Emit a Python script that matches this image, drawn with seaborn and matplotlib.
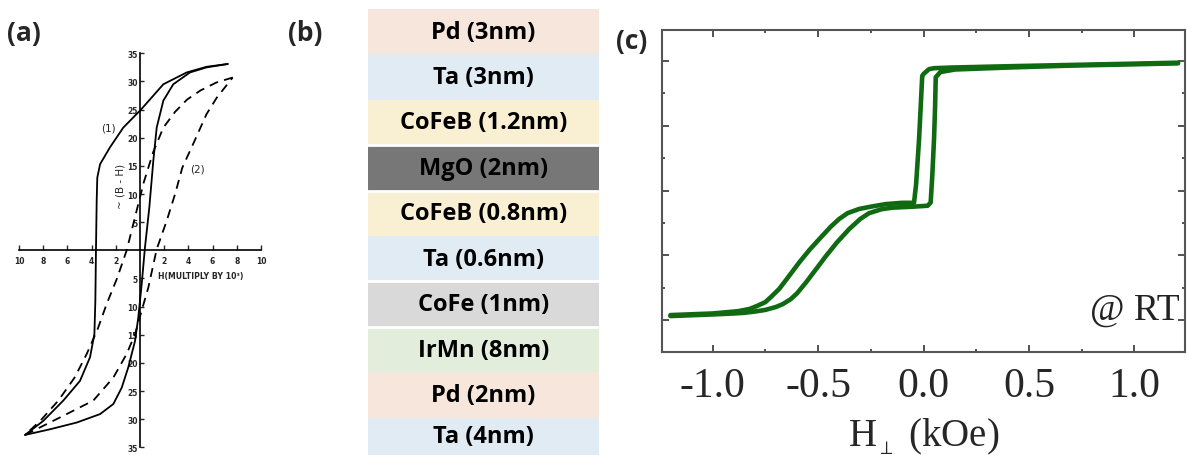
import numpy as np
import pandas as pd
import matplotlib
matplotlib.use("Agg")
import matplotlib.pyplot as plt
import seaborn as sns
from matplotlib.ticker import MultipleLocator

# ---------------- Panel (a): classic B-H hysteresis loops ----------------
# loop (1), solid: descending branch (from +H saturation to -H)
a1_down_x = [7.25, 5.5, 3.86, 1.93, 0.08, -1.38, -2.48, -3.3, -3.53, -3.58, -3.64, -3.69,
             -3.77, -4.13, -4.96, -6.34, -7.99, -9.5]
a1_down_y = [33.1, 32.6, 31.6, 29.5, 25.0, 21.8, 18.3, 15.3, 12.9, 8.8, -0.1, -9.0,
             -14.9, -19.0, -23.2, -26.7, -30.3, -32.8]
# loop (1), solid: ascending branch
a1_up_x = [-9.5, -7.44, -5.23, -3.3, -2.2, -1.51, -0.97, -0.41, -0.14, 0.14, 0.41, 0.77,
           1.1, 1.38, 1.93, 2.75, 4.13, 5.5, 7.25]
a1_up_y = [-32.8, -31.8, -30.6, -29.1, -27.3, -24.4, -20.8, -16.1, -11.9, -6.0, 0.5, 7.6,
           15.9, 21.8, 26.6, 29.5, 31.6, 32.5, 33.1]
# loop (2), dashed: descending branch
a2_down_x = [7.66, 6.3, 5.0, 3.9, 2.9, 1.93, 1.1, 0.3, -0.4, -1.1, -1.9, -2.75, -3.5,
             -4.4, -5.4, -6.75, -8.2, -9.5]
a2_down_y = [30.7, 29.8, 28.4, 26.8, 24.6, 21.8, 17.5, 12.0, 6.0, 0.0, -5.0, -9.5, -14.0,
             -18.4, -22.6, -26.7, -30.2, -32.8]
# loop (2), dashed: ascending branch
a2_up_x = [-9.5, -6.06, -3.86, -2.2, -1.1, -0.41, 0.14, 0.69, 1.38, 2.2, 2.9, 3.5, 4.5,
           5.5, 6.34, 7.66]
a2_up_y = [-32.8, -29.1, -26.7, -22.6, -18.4, -14.9, -10.7, -6.6, 0.2, 5.2, 10.0, 14.7,
           19.4, 24.2, 27.1, 30.7]
a_xticks = [-10, -8, -6, -4, -2, 2, 4, 6, 8, 10]
a_xticklabels = ["10", "8", "6", "4", "2", "2", "4", "6", "8", "10"]
a_yticks = [35, 30, 25, 20, 15, 10, 5, -5, -10, -15, -20, -25, -30, -35]
a_yticklabels = ["35", "30", "25", "20", "15", "10", "5", "5", "10", "15", "20", "25", "30", "35"]

# ---------------- Panel (b): layer stack ----------------
layers = ["Pd (3nm)", "Ta (3nm)", "CoFeB (1.2nm)", "MgO (2nm)", "CoFeB (0.8nm)",
          "Ta (0.6nm)", "CoFe (1nm)", "IrMn (8nm)", "Pd (2nm)", "Ta (4nm)"]
layer_colors = ["#FBE5D6", "#DEEBF7", "#FFF2CC", "#777777", "#FFF2CC",
                "#DEEBF7", "#D9D9D9", "#E2F0D9", "#FBE5D6", "#DEEBF7"]
layer_gap_after = ["CoFeB (1.2nm)", "MgO (2nm)", "Ta (0.6nm)", "CoFe (1nm)"]

# ---------------- Panel (c): exchange-biased perpendicular loop ----------------
c_up_x = [-1.2, -1.0, -0.9, -0.85, -0.8, -0.75, -0.7, -0.667, -0.63, -0.6, -0.557, -0.5,
          -0.462, -0.41, -0.352, -0.3, -0.258, -0.2, -0.147, -0.05, 0.02, 0.034, 0.042,
          0.05, 0.055, 0.058, 0.08, 0.15, 0.4, 0.7, 1.0, 1.207]
c_up_y = [0.12, 0.17, 0.2, 0.22, 0.26, 0.31, 0.4, 0.49, 0.64, 0.82, 1.16, 1.65,
          1.98, 2.4, 2.81, 3.12, 3.3, 3.42, 3.47, 3.5, 3.53, 3.63, 4.5,
          5.6, 6.6, 7.5, 7.66, 7.74, 7.8, 7.86, 7.9, 7.93]
c_down_x = [1.207, 1.0, 0.7, 0.4, 0.135, 0.05, 0.026, 0.0, -0.006, -0.021, -0.035, -0.045,
            -0.1, -0.179, -0.25, -0.305, -0.36, -0.4, -0.44, -0.494, -0.54, -0.589, -0.65,
            -0.684, -0.72, -0.75, -0.79, -0.825, -0.88, -1.0, -1.2]
c_down_y = [7.95, 7.92, 7.88, 7.84, 7.8, 7.78, 7.75, 7.6, 7.54, 5.59, 4.2, 3.62,
            3.62, 3.58, 3.5, 3.43, 3.3, 3.12, 2.88, 2.5, 2.17, 1.78, 1.25,
            0.96, 0.73, 0.55, 0.43, 0.34, 0.27, 0.2, 0.15]
c_xticks = [-1.0, -0.5, 0.0, 0.5, 1.0]
c_xticklabels = ["-1.0", "-0.5", "0.0", "0.5", "1.0"]

# ================= figure =================
W, H = 1187, 456
sns.set_style("white")
plt.rcParams["font.family"] = ["DejaVu Sans"]
plt.rcParams["mathtext.fontset"] = "stix"
fig = plt.figure(figsize=(W / 100, H / 100), dpi=100)


def px_axes(x0, y0, x1, y1):
    return fig.add_axes([x0 / W, 1 - y1 / H, (x1 - x0) / W, (y1 - y0) / H])


# ---- (a) ----
ax_a = px_axes(19, 54.3, 261, 448.3)
ax_a.set_facecolor("none")
for xs, ys, ls in [(a1_down_x, a1_down_y, "-"), (a1_up_x, a1_up_y, "-"),
                   (a2_down_x, a2_down_y, (0, (5, 3.5))), (a2_up_x, a2_up_y, (0, (5, 3.5)))]:
    sns.lineplot(x=xs, y=ys, sort=False, ax=ax_a, color="black", lw=1.3, linestyle=ls,
                 estimator=None)
ax_a.set_xlim(-10, 10)
ax_a.set_ylim(-35, 35)
ax_a.spines["left"].set_position("zero")
ax_a.spines["bottom"].set_position("zero")
ax_a.spines["top"].set_visible(False)
ax_a.spines["right"].set_visible(False)
for s in ("left", "bottom"):
    ax_a.spines[s].set_linewidth(1.2)
    ax_a.spines[s].set_color("black")
ax_a.set_xticks(a_xticks, a_xticklabels, fontsize=5.5, fontweight="bold")
ax_a.set_yticks(a_yticks, a_yticklabels, fontsize=5.5, fontweight="bold")
ax_a.tick_params(axis="x", direction="in", length=3.5, width=1.0, pad=4, bottom=True)
ax_a.tick_params(axis="y", direction="in", length=3.0, width=1.0, pad=1.5, left=True)
ax_a.set_xlabel("")
ax_a.set_ylabel("")
ax_a.text(-2.6, 21.8, "(1)", fontsize=7.5, ha="center", va="center")
ax_a.text(4.75, 14.6, "(2)", fontsize=7.5, ha="center", va="center")
ax_a.text(-1.65, 11.5, "~ (B - H)", fontsize=7.5, rotation=90, ha="center", va="center")
ax_a.text(1.5, -4.4, "H(MULTIPLY BY 10³)", fontsize=5.6, fontweight="bold",
          ha="left", va="center")

# ---- (b) ----
ax_b = px_axes(368, 0, 599, 456)
df_b = pd.DataFrame({"layer": layers, "v": [1] * len(layers)})
sns.barplot(data=df_b, x="v", y="layer", hue="layer", palette=dict(zip(layers, layer_colors)),
            orient="h", width=1.0, legend=False, ax=ax_b, linewidth=0)
ax_b.set_xlim(0, 1)
row_px = 45.4
top = -0.5 - 10 / row_px
bottom = top + 456 / row_px
ax_b.set_ylim(bottom, top)
for g in layer_gap_after:
    ax_b.axhline(layers.index(g) + 0.5, color="white", lw=2.0)
for i, name in enumerate(layers):
    yc = i if i + 0.5 <= bottom else (i - 0.5 + bottom) / 2
    ax_b.text(0.5, yc, name, ha="center", va="center", fontsize=17, fontweight="bold",
              family="Open Sans", color="black")
ax_b.axis("off")

# ---- (c) ----
ax_c = px_axes(662, 31, 1185, 353.3)
green = "#0f6a12"
sns.lineplot(x=c_up_x, y=c_up_y, sort=False, ax=ax_c, color=green, lw=3.3, estimator=None,
             solid_joinstyle="round", solid_capstyle="round")
sns.lineplot(x=c_down_x, y=c_down_y, sort=False, ax=ax_c, color=green, lw=3.3,
             estimator=None, solid_joinstyle="round", solid_capstyle="round")
ax_c.set_xlim(-1.24, 1.24)
ax_c.set_ylim(-1, 8.96)
ax_c.set_xticks(c_xticks, c_xticklabels, fontsize=30, family="Liberation Serif")
ax_c.xaxis.set_minor_locator(MultipleLocator(0.25))
ax_c.yaxis.set_major_locator(MultipleLocator(2))
ax_c.yaxis.set_minor_locator(MultipleLocator(1))
ax_c.set_yticklabels([])
ax_c.tick_params(which="both", direction="in", top=True, right=True, bottom=True, left=True,
                 color="#444444")
ax_c.tick_params(which="major", length=5, width=1.3)
ax_c.tick_params(which="minor", length=2.5, width=1.3)
ax_c.tick_params(axis="x", which="major", pad=10)
for s in ax_c.spines.values():
    s.set_linewidth(1.5)
    s.set_color("#555555")
ax_c.set_ylabel("")
ax_c.set_xlabel(r"H$_{{}_{\perp}}$ (kOe)", fontsize=28, family="Liberation Serif",
                labelpad=8)
ax_c.text(0.99, 0.105, "@ RT", transform=ax_c.transAxes, ha="right", va="baseline",
          fontsize=27, family="Liberation Serif", color="#222222")

# ---- panel letters ----
for x, y, t in [(7, 33, "(a)"), (288, 33, "(b)"), (616, 42, "(c)")]:
    fig.text(x / W, 1 - y / H, t, fontsize=19, fontweight="bold", family="Open Sans",
             ha="left", va="center")

fig.savefig("out.png", dpi=100)
